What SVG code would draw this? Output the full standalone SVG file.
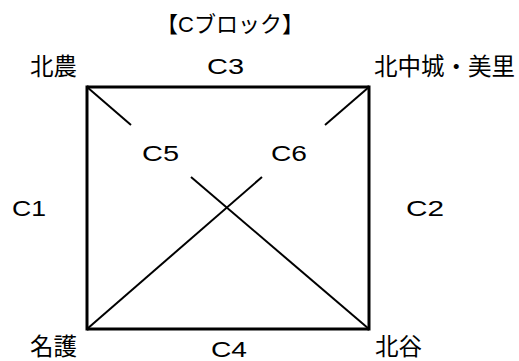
<svg xmlns="http://www.w3.org/2000/svg" width="519" height="361" viewBox="0 0 519 361">
<style>
.t{font-family:"Noto Sans CJK JP","Liberation Sans",sans-serif;font-size:23.5px;fill:#000}
.l{font-family:"Liberation Sans","Noto Sans CJK JP",sans-serif;font-size:22px;fill:#000}
.e{stroke:#000;fill:none;stroke-linecap:butt}
</style>
<rect width="519" height="361" fill="#fff"/>
<text x="230" y="32" text-anchor="middle" font-family="Noto Sans CJK JP, sans-serif" font-size="22">【<tspan font-family="Liberation Sans">C</tspan>ブロック】</text>
<g id="hokuno"><text class="t" x="30" y="75">北農</text></g>
<g id="kitanakagusuku"><text class="t" x="374" y="75">北中城・美里</text></g>
<g id="nago"><text class="t" x="30" y="355">名護</text></g>
<g id="chatan"><text class="t" x="375" y="355">北谷</text></g>
<g id="connectors">
<line class="e" x1="87" y1="87" x2="369" y2="87" stroke-width="3"/>
<line class="e" x1="87" y1="329" x2="369" y2="329" stroke-width="3"/>
<line class="e" x1="87" y1="85.5" x2="87" y2="330.5" stroke-width="3"/>
<line class="e" x1="369" y1="85.5" x2="369" y2="330.5" stroke-width="3"/>
<line class="e" x1="87" y1="87" x2="131" y2="125" stroke-width="2"/>
<line class="e" x1="191" y1="177" x2="369" y2="329" stroke-width="2"/>
<line class="e" x1="369" y1="87" x2="325" y2="125" stroke-width="2"/>
<line class="e" x1="262" y1="177" x2="87" y2="329" stroke-width="2"/>
<text class="l" x="207" y="74" textLength="37" lengthAdjust="spacingAndGlyphs">C3</text>
<text class="l" x="211" y="357" textLength="36" lengthAdjust="spacingAndGlyphs">C4</text>
<text class="l" x="12" y="216" textLength="34" lengthAdjust="spacingAndGlyphs">C1</text>
<text class="l" x="406" y="216" textLength="38" lengthAdjust="spacingAndGlyphs">C2</text>
<text class="l" x="142" y="161" textLength="37" lengthAdjust="spacingAndGlyphs">C5</text>
<text class="l" x="271" y="161" textLength="36" lengthAdjust="spacingAndGlyphs">C6</text>
</g>
</svg>
